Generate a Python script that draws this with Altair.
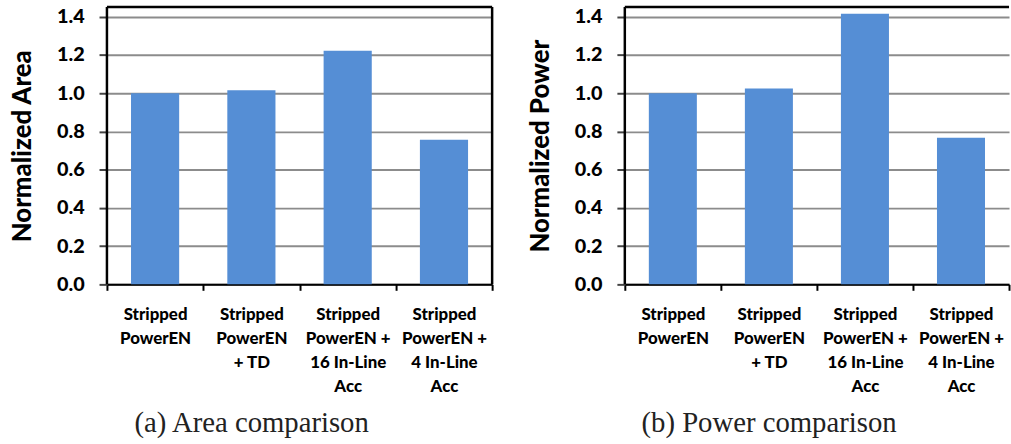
import altair as alt
import pandas as pd

categories = ["Stripped|PowerEN", "Stripped|PowerEN|+ TD",
              "Stripped|PowerEN +|16 In-Line|Acc", "Stripped|PowerEN +|4 In-Line|Acc"]
area = [1.0, 1.015, 1.222, 0.756]
power = [1.0, 1.025, 1.415, 0.767]
y_ticks = [0.0, 0.2, 0.4, 0.6, 0.8, 1.0, 1.2, 1.4]

BAR = "#558ed5"
FONT = "Lato"
H = 280


def panel(values, ytitle, caption, width, right_edge):
    df = pd.DataFrame({"cat": categories, "val": values})
    bars = alt.Chart(df).mark_bar(color=BAR, width=alt.RelativeBandSize(0.5)).encode(
        x=alt.X("cat:N", sort=categories, title=None,
                scale=alt.Scale(paddingInner=0, paddingOuter=0),
                axis=alt.Axis(labelExpr="split(datum.label, '|')", labelAngle=0,
                              labelFont=FONT, labelFontWeight=900, labelFontSize=17,
                              labelColor="black", labelLineHeight=24.5, labelPadding=16,
                              labelLimit=300, labelOverlap=False, labelBaseline="top",
                              tickBand="extent", tickSize=6, tickColor="black", tickWidth=2,
                              domainColor="black", domainWidth=2, grid=False)),
        y=alt.Y("val:Q", title=ytitle,
                scale=alt.Scale(domain=[0, 1.45], nice=False),
                axis=alt.Axis(values=y_ticks, format=".1f", labelFont=FONT,
                              labelFontWeight=900, labelFontSize=20, labelColor="black",
                              labelPadding=15, tickSize=8, tickColor="#444444", tickWidth=2,
                              domain=False, grid=True, gridColor="#8c8c8c", gridWidth=2,
                              titleFont=FONT, titleFontWeight=900, titleFontSize=26,
                              titleColor="black", titlePadding=21)),
    )
    one = pd.DataFrame({"k": [0]})
    frame = alt.Chart(one).mark_rule(color="black", strokeWidth=2.5)
    layers = [
        bars,
        frame.encode(x=alt.value(0), x2=alt.value(width), y=alt.value(0)),
        frame.encode(x=alt.value(0), y=alt.value(0), y2=alt.value(H)),
    ]
    if right_edge:
        layers.append(frame.encode(x=alt.value(width), y=alt.value(0), y2=alt.value(H)))
    return alt.layer(*layers).properties(
        width=width, height=H,
        title=alt.TitleParams(caption, orient="bottom", anchor="middle", frame="bounds",
                              font="Liberation Serif", fontSize=29, fontWeight="normal",
                              color="#222222", offset=15),
    )


left = panel(area, "Normalized Area", "(a) Area comparison", 389, True)
right = panel(power, "Normalized Power", "(b) Power comparison", 388, False)

chart = alt.hconcat(left, right, spacing=34).properties(
    padding={"left": 10, "top": 3, "right": 0, "bottom": 0},
    background="white",
).configure_view(stroke=None)

chart.save("out.html", embed_options={"renderer": "svg", "actions": False})
